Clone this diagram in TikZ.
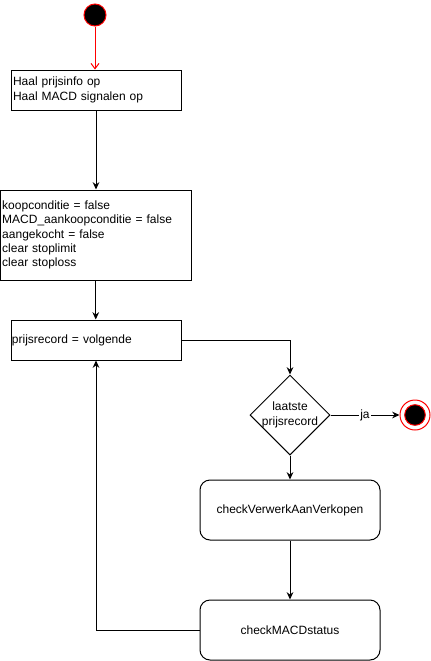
\documentclass[tikz,border=0pt]{standalone}
\usepackage{fontspec}
\setmainfont{Liberation Sans}
\usetikzlibrary{arrows.meta,shapes.geometric}
\begin{document}
\begin{tikzpicture}[x=0.75pt,y=-0.75pt,
  font=\fontsize{9pt}{10.8pt}\selectfont, line width=0.75pt,
  box/.style={draw, rectangle, align=left, inner xsep=1.5pt, inner ysep=0pt},
  rbox/.style={draw, rectangle, rounded corners=7.5pt, minimum width=135pt, minimum height=45pt, align=center},
  flow/.style={-{Stealth[length=5.5pt,width=5pt]}},
  startarrow/.style={red, -{Straight Barb[length=4pt,width=6pt]}}
]
\useasboundingbox (0,0) rectangle (431,661);
\node[circle, draw=red, fill=black, minimum size=16.5pt, inner sep=0] (start) at (95,15) {};
\node[box, text width=124.5pt, minimum height=30pt] (b1) at (96,90) {Haal prijsinfo op\\[1pt]Haal MACD signalen op};
\node[box, text width=140.25pt, minimum height=67.5pt] (b2) at (95.75,235) {koopconditie = false\\MACD\_aankoopconditie = false\\aangekocht = false\\clear stoplimit\\clear stoploss};
\node[box, text width=126pt, inner xsep=0.75pt, minimum height=30pt] (b3) at (96,340) {prijsrecord = volgende};
\node[diamond, draw, minimum size=60pt, inner sep=0, label={[align=center]center:laatste\\prijsrecord}] (d) at (290,415) {};
\node[circle, draw=red, fill=white, minimum size=22.5pt, inner sep=0,
  path picture={\draw[red, fill=black] (path picture bounding box.center) circle (7.75pt);}] (end) at (415,415) {};
\node[rbox] (c1) at (290,510) {checkVerwerkAanVerkopen};
\node[rbox] (c2) at (290,630) {checkMACDstatus};
\draw[startarrow] (start) -- (start |- b1.north);
\draw[flow] (b1.south) -- (b1.south |- b2.north);
\draw[flow] (b2.south) -- (b2.south |- b3.north);
\draw[flow] (b3.east) -| (d.north);
\draw[flow] (d.east) -- node[fill=white, inner sep=1pt] (ja) {ja} (end.west);
\draw[flow] (d.south) -- (c1.north);
\draw[flow] (c1.south) -- (c2.north);
\draw[flow] (c2.west) -| (b3.south);
\end{tikzpicture}
\end{document}
